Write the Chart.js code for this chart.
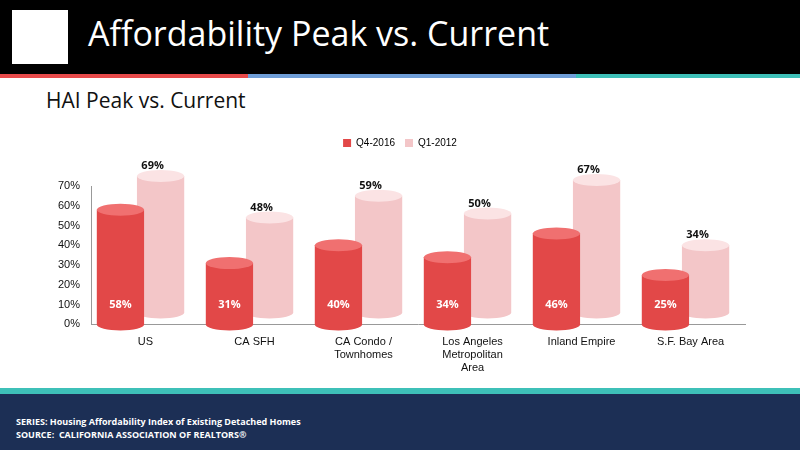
<!DOCTYPE html>
<html><head><meta charset="utf-8">
<script src="https://cdn.jsdelivr.net/npm/chart.js@4"></script>
<style>
body{margin:0;width:800px;height:450px;overflow:hidden;background:#fff;font-family:"Open Sans",sans-serif;position:relative}
#hdr{position:absolute;left:0;top:0;width:800px;height:74px;background:#000}
#hdr h1{position:absolute;left:88px;top:10px;margin:0;color:#fff;font-weight:400;font-size:34px}
#logo{position:absolute;left:12px;top:10px;width:56px;height:54px;background:#fff}
#stripe{position:absolute;top:74px;left:0;width:800px;height:4px;background:linear-gradient(90deg,#e84a4a 0 31%,#6f9ed8 31% 72%,#3ec0b8 72%)}
#sub{position:absolute;left:46px;top:86px;font-size:21px;color:#111}
#ftr{position:absolute;left:0;top:388px;width:800px;height:62px;background:#1c2f55}
#ftr p{margin:0;color:#fff;font-weight:700;font-size:9px;position:absolute;left:16px}
#wrap{position:absolute;left:0;top:128px;width:800px;height:250px}
</style></head><body>
<div id="hdr"><div id="logo"></div><h1>Affordability Peak vs. Current</h1></div>
<div id="stripe"></div>
<div id="sub">HAI Peak vs. Current</div>
<div id="wrap"><canvas id="c"></canvas></div>
<div id="ftr"><div style="position:absolute;left:0;top:0;width:800px;height:6px;background:#3ec0b8"></div>
<p style="top:27px">SERIES: Housing Affordability Index of Existing Detached Homes</p>
<p style="top:40px">SOURCE:&nbsp; CALIFORNIA ASSOCIATION OF REALTORS®</p></div>
<script>
// Donnees du graphique
const categories = [['US'], ['CA SFH'], ['CA Condo /', 'Townhomes'], ['Los Angeles', 'Metropolitan', 'Area'], ['Inland Empire'], ['S.F. Bay Area']];
const q42016 = [58, 31, 40, 34, 46, 25];
const q12012 = [69, 48, 59, 50, 67, 34];

// Espace sous la legende
const legendGap = {
  id: 'legendGap',
  beforeInit(chart) {
    const fit = chart.legend.fit;
    chart.legend.fit = function () { fit.bind(chart.legend)(); this.height += 28; };
  }
};

// Plugin pour dessiner les cylindres et les etiquettes
const cylinders = {
  id: 'cylinders',
  afterDatasetsDraw(chart) {
    const ctx = chart.ctx;
    [1, 0].forEach(di => {
      chart.getDatasetMeta(di).data.forEach((bar, i) => {
        const w = bar.width * 1.15;
        const dx = di === 1 ? -10 : 0, dy = di === 1 ? -12 : 0;
        const x = bar.x + dx, top = bar.y + dy, base = bar.base + dy;
        const rx = w / 2, ry = 6;
        const side = di === 0 ? '#e24848' : '#f3c6c8';
        const cap = di === 0 ? '#f07070' : '#fbe3e4';
        ctx.save();
        ctx.fillStyle = side;
        ctx.beginPath();
        ctx.ellipse(x, base, rx, ry, 0, 0, Math.PI);
        ctx.lineTo(x - rx, top);
        ctx.lineTo(x + rx, top);
        ctx.fill();
        ctx.fillStyle = cap;
        ctx.beginPath();
        ctx.ellipse(x, top, rx, ry, 0, 0, 2 * Math.PI);
        ctx.fill();
        ctx.font = 'bold 11px "Open Sans"';
        ctx.textAlign = 'center';
        const v = chart.data.datasets[di].data[i] + '%';
        if (di === 0) { ctx.fillStyle = '#fff'; ctx.fillText(v, x, base - 20); }
        else { ctx.fillStyle = '#111'; ctx.fillText(v, x - 8, top - 10); }
        ctx.restore();
      });
    });
  }
};

new Chart(document.getElementById('c'), {
  type: 'bar',
  data: {
    labels: categories,
    datasets: [
      { label: 'Q4-2016', data: q42016, backgroundColor: 'rgba(0,0,0,0)', borderWidth: 0 },
      { label: 'Q1-2012', data: q12012, backgroundColor: 'rgba(0,0,0,0)', borderWidth: 0 }
    ]
  },
  options: {
    responsive: true, maintainAspectRatio: false, animation: false,
    layout: { padding: { left: 55, right: 55 } },
    datasets: { bar: { categoryPercentage: 0.92, barPercentage: 0.82 } },
    plugins: {
      legend: { position: 'top', labels: { boxWidth: 8, boxHeight: 8, font: { size: 10 }, color: '#333',
        generateLabels: c => [
          { text: 'Q4-2016', fillStyle: '#e24848', strokeStyle: '#e24848', lineWidth: 0 },
          { text: 'Q1-2012', fillStyle: '#f3c6c8', strokeStyle: '#f3c6c8', lineWidth: 0 }
        ] } },
      tooltip: { enabled: false }
    },
    scales: {
      x: { grid: { display: false }, border: { color: '#999' }, ticks: { color: '#111', font: { size: 11 } } },
      y: { min: 0, max: 70, ticks: { stepSize: 10, color: '#111', font: { size: 11 }, callback: v => v + '%' },
        grid: { display: false }, border: { color: '#999' } }
    }
  },
  plugins: [legendGap, cylinders]
});
</script>
</body></html>
